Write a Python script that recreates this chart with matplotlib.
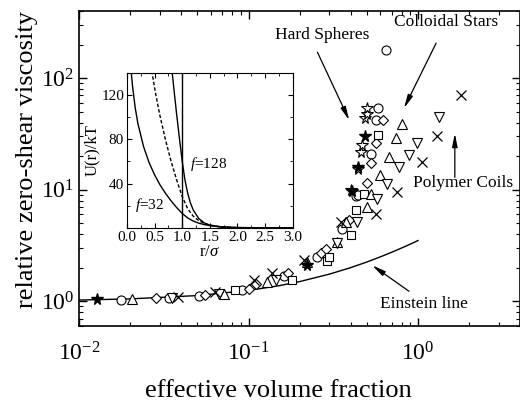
import matplotlib
matplotlib.use("Agg")
import matplotlib.pyplot as plt
from matplotlib.ticker import MultipleLocator, NullFormatter

plt.rcParams['font.family'] = ['Liberation Serif', 'DejaVu Serif']
plt.rcParams['mathtext.fontset'] = 'custom'
plt.rcParams['mathtext.rm'] = 'Liberation Serif'
plt.rcParams['mathtext.it'] = 'Liberation Serif:italic'
plt.rcParams['mathtext.bf'] = 'Liberation Serif:bold'

# ---------------- data ----------------
star_open_phi = [0.40, 0.44, 0.46, 0.47, 0.49, 0.50, 0.50]
star_open_eta = [10.0, 15.4, 22.0, 25.0, 44.0, 48.0, 54.0]

star_fill_phi = [0.0128, 0.22, 0.41, 0.44, 0.49]
star_fill_eta = [1.04, 2.1, 9.8, 16.0, 30.0]

circ_phi = [0.0177, 0.034, 0.051, 0.092, 0.163, 0.255, 0.357, 0.432, 0.44, 0.53, 0.566, 0.582, 0.65]
circ_eta = [1.03, 1.08, 1.11, 1.25, 1.67, 2.47, 4.4, 8.7, 9.0, 21.0, 42.0, 54.0, 178.0]

diam_phi = [0.0284, 0.055, 0.101, 0.111, 0.17, 0.269, 0.288, 0.393, 0.50, 0.53, 0.566, 0.62]
diam_eta = [1.06, 1.13, 1.30, 1.42, 1.78, 2.68, 2.97, 5.4, 11.5, 17.5, 26.0, 42.0]

sq_phi = [0.083, 0.18, 0.29, 0.30, 0.403, 0.432, 0.48, 0.58]
sq_eta = [1.26, 1.55, 2.30, 2.47, 3.96, 6.6, 9.2, 31.0]

tri_phi = [0.0205, 0.072, 0.129, 0.222, 0.334, 0.377, 0.50, 0.53, 0.60, 0.675, 0.74, 0.80]
tri_eta = [1.05, 1.17, 1.50, 2.27, 3.37, 5.1, 7.0, 9.2, 13.6, 19.7, 29.0, 39.0]

dtri_phi = [0.0356, 0.0674, 0.146, 0.335, 0.438, 0.574, 0.66, 0.77, 0.885, 0.99, 1.33]
dtri_eta = [1.07, 1.15, 1.54, 3.3, 5.1, 8.2, 11.3, 16.0, 20.5, 26.0, 45.0]

cross_phi = [0.0382, 0.0632, 0.108, 0.137, 0.213, 0.352, 0.566, 0.75, 1.05, 1.29, 1.79]
cross_eta = [1.10, 1.20, 1.54, 1.78, 2.33, 5.18, 6.0, 9.6, 17.8, 30.0, 70.0]

einstein_phi = [0.01, 0.02, 0.05, 0.1, 0.15, 0.2, 0.3, 0.4, 0.5, 0.6, 0.7, 0.8, 0.9, 1.0]
einstein_eta = [1.025, 1.05, 1.125, 1.25, 1.375, 1.5, 1.75, 2.0, 2.25, 2.5, 2.75, 3.0, 3.25, 3.5]

# inset potentials U(r)/kT
f32_r = [0.08, 0.1, 0.15, 0.2, 0.3, 0.4, 0.5, 0.6, 0.7, 0.8, 0.9, 1.0, 1.1, 1.2, 1.3, 1.4, 1.5, 1.7, 2.0, 2.5, 3.0]
f32_u = [140, 128.9, 108.6, 94.1, 73.7, 59.2, 48.0, 38.8, 31.1, 24.4, 18.4, 13.1, 9.0, 6.2, 4.3, 3.0, 2.1, 1.06, 0.39, 0.075, 0.015]

f64_r = [0.45, 0.5, 0.55, 0.6, 0.7, 0.8, 0.9, 1.0, 1.1, 1.2, 1.3, 1.4, 1.5, 1.7, 2.0, 2.5, 3.0]
f64_u = [141.8, 126.8, 113.3, 100.9, 79.1, 60.1, 43.4, 28.4, 17.3, 10.6, 6.6, 4.1, 2.6, 1.0, 0.26, 0.03, 0.0]

f128_r = [0.82, 0.85, 0.9, 0.95, 1.0, 1.05, 1.1, 1.15, 1.2, 1.3, 1.4, 1.5, 1.7, 2.0, 3.0]
f128_u = [140, 125.6, 102.6, 81.0, 60.4, 43.4, 31.2, 22.5, 16.2, 8.5, 4.5, 2.4, 0.68, 0.1, 0.0]

hs_r = [1.0, 1.0]
hs_u = [0, 140]

# ---------------- figure ----------------
fig = plt.figure(figsize=(5.2, 4.07), dpi=100)
ax = fig.add_axes([0.152, 0.199, 0.848, 0.774])
ax.set_xscale('log')
ax.set_yscale('log')
ax.set_xlim(0.01, 4.0)
ax.set_ylim(0.6, 400)

mk = dict(linestyle='none', markerfacecolor='white', markeredgecolor='black',
          markeredgewidth=0.8, color='black')
ax.plot(einstein_phi, einstein_eta, color='black', lw=1.0, zorder=1)
ax.plot(circ_phi, circ_eta, marker='o', markersize=6.5, **mk)
ax.plot(diam_phi, diam_eta, marker='D', markersize=5.5, **mk)
ax.plot(sq_phi, sq_eta, marker='s', markersize=5.5, **mk)
ax.plot(tri_phi, tri_eta, marker='^', markersize=7, **mk)
ax.plot(dtri_phi, dtri_eta, marker='v', markersize=7, **mk)
ax.plot(cross_phi, cross_eta, marker='x', markersize=7, linestyle='none', color='black', markeredgewidth=0.9)
ax.plot(star_open_phi, star_open_eta, marker='*', markersize=8.5, **mk)
ax.plot(star_fill_phi, star_fill_eta, marker='*', markersize=8.5, linestyle='none',
        color='black', markeredgecolor='black')

ax.tick_params(which='both', direction='in', top=True, right=True, labelsize=17)
ax.tick_params(axis='x', which='major', pad=12)
ax.tick_params(which='major', length=6, width=1)
ax.tick_params(which='minor', length=3, width=0.8)
ax.xaxis.set_minor_formatter(NullFormatter())
ax.yaxis.set_minor_formatter(NullFormatter())
for s in ax.spines.values():
    s.set_linewidth(1.2)

ax.set_xlabel('effective volume fraction', fontsize=19)
ax.set_ylabel('relative zero-shear viscosity', fontsize=19)
ax.xaxis.set_label_coords(0.451, -0.172)
ax.yaxis.set_label_coords(-0.092, 0.53)

arr = dict(arrowstyle='-|>,head_length=0.8,head_width=0.16', color='black', lw=0.9,
           shrinkA=0, shrinkB=0)
ax.annotate('', xy=(0.393, 42), xytext=(0.255, 171), arrowprops=arr)
ax.text(0.272, 243, 'Hard Spheres', fontsize=12.5, ha='center', va='center')
ax.annotate('', xy=(0.827, 53.8), xytext=(1.28, 206), arrowprops=arr)
ax.text(1.46, 318, 'Colloidal Stars', fontsize=12.5, ha='center', va='center')
ax.annotate('', xy=(1.65, 32), xytext=(1.65, 12.9), arrowprops=arr)
ax.text(1.84, 11.4, 'Polymer Coils', fontsize=12.5, ha='center', va='center')
ax.annotate('', xy=(0.537, 2.1), xytext=(0.885, 1.23), arrowprops=arr)
ax.text(1.085, 0.94, 'Einstein line', fontsize=12.5, ha='center', va='center')

# ---------------- inset ----------------
ins = fig.add_axes([0.244, 0.44, 0.319, 0.381])
ins.plot(hs_r, hs_u, color='black', lw=1.0)
ins.plot(f32_r, f32_u, color='black', lw=1.0)
ins.plot(f64_r, f64_u, color='black', lw=1.0, linestyle=(0, (2.5, 1.5)))
ins.plot(f128_r, f128_u, color='black', lw=1.0)
ins.set_xlim(0, 3.0)
ins.set_ylim(0, 140)
ins.xaxis.set_major_locator(MultipleLocator(0.5))
ins.xaxis.set_minor_locator(MultipleLocator(0.25))
ins.yaxis.set_minor_locator(MultipleLocator(20))
ins.set_yticks([40, 80, 120])
ins.tick_params(which='both', direction='in', top=True, right=True, labelsize=11, pad=2)
ins.tick_params(which='major', length=3.5)
ins.tick_params(which='minor', length=2)
ins.set_xlabel(r'r/$\sigma$', fontsize=12, labelpad=0)
ins.set_ylabel('U(r)/kT', fontsize=12, labelpad=1)
ins.text(0.15, 21, r'$f$=32', fontsize=11, ha='left', va='center')
ins.text(1.14, 58, r'$f$=128', fontsize=11, ha='left', va='center')

fig.savefig('out.png', dpi=100)
